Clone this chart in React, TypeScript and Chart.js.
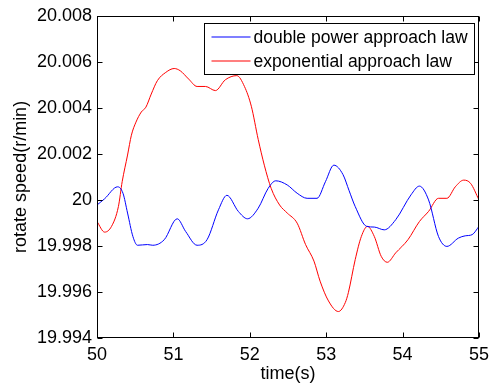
import React, { useEffect, useRef } from "react";
import { Chart, registerables } from "chart.js";

Chart.register(...registerables);

const blueTime = [50.0, 50.1, 50.27, 50.34, 50.4, 50.47, 50.53, 50.66, 50.73, 50.88, 51.05, 51.16, 51.31, 51.44, 51.59, 51.7, 51.85, 51.97, 52.11, 52.24, 52.34, 52.49, 52.62, 52.75, 52.88, 52.99, 53.1, 53.22, 53.3, 53.38, 53.53, 53.63, 53.76, 53.91, 54.11, 54.22, 54.34, 54.47, 54.58, 54.73, 54.82, 54.91, 55.0];
const blueSpeed = [19.99978, 20.00005, 20.00057, 20.00029, 19.99943, 19.99841, 19.99803, 19.99806, 19.99803, 19.99827, 19.99918, 19.99863, 19.99803, 19.99827, 19.99957, 20.0002, 19.9995, 19.99918, 19.99964, 20.0005, 20.00083, 20.00065, 20.00029, 20.00007, 20.00007, 20.00079, 20.00151, 20.0011, 20.0004, 19.99971, 19.99885, 19.99882, 19.9987, 19.99914, 20.00022, 20.0006, 20.0, 19.99841, 19.99798, 19.99834, 19.99844, 19.99849, 19.99885];

const redTime = [50.0, 50.1, 50.19, 50.28, 50.33, 50.4, 50.45, 50.51, 50.58, 50.64, 50.71, 50.79, 50.9, 51.01, 51.09, 51.2, 51.31, 51.42, 51.55, 51.68, 51.83, 51.93, 52.02, 52.11, 52.19, 52.28, 52.39, 52.49, 52.62, 52.73, 52.84, 52.92, 53.03, 53.16, 53.25, 53.29, 53.38, 53.46, 53.54, 53.63, 53.72, 53.8, 53.91, 54.07, 54.22, 54.34, 54.47, 54.58, 54.69, 54.8, 54.89, 55.0];
const redSpeed = [19.99906, 19.9986, 19.99885, 19.99971, 20.0008, 20.00195, 20.00281, 20.00338, 20.00382, 20.00403, 20.0046, 20.00518, 20.00554, 20.00571, 20.00561, 20.00525, 20.00493, 20.00493, 20.00475, 20.00522, 20.0054, 20.00493, 20.00407, 20.00263, 20.00151, 20.0005, 19.99978, 19.99943, 19.99899, 19.99806, 19.99734, 19.99647, 19.99561, 19.99515, 19.99554, 19.99597, 19.99741, 19.99841, 19.99885, 19.99841, 19.99755, 19.99729, 19.9977, 19.99827, 19.99906, 19.9995, 20.00007, 20.00007, 20.00057, 20.00086, 20.00072, 20.0];

const seriesLabels = ["double power approach law", "exponential approach law"];
const seriesColors = ["#0000ff", "#ff0000"];
const xTickValues = [50, 51, 52, 53, 54, 55];
const yTickValues = [19.994, 19.996, 19.998, 20.0, 20.002, 20.004, 20.006, 20.008];

const FONT = '"Liberation Sans", Arial, sans-serif';

const framePlugin = {
  id: "frame",
  afterDatasetsDraw(chart: any) {
    const { ctx, chartArea: a, scales } = chart;
    ctx.save();
    ctx.strokeStyle = "#000";
    ctx.lineWidth = 1;
    const L = Math.round(a.left) + 0.5;
    const R = Math.round(a.right) - 0.5;
    const T = Math.round(a.top) + 0.5;
    const B = Math.round(a.bottom) - 0.5;
    ctx.strokeRect(L, T, R - L, B - T);
    const tl = 5;
    ctx.beginPath();
    for (const v of xTickValues) {
      const px = Math.round(scales.x.getPixelForValue(v)) + 0.5;
      ctx.moveTo(px, B);
      ctx.lineTo(px, B - tl);
      ctx.moveTo(px, T);
      ctx.lineTo(px, T + tl);
    }
    for (const v of yTickValues) {
      const py = Math.round(scales.y.getPixelForValue(v)) + 0.5;
      ctx.moveTo(L, py);
      ctx.lineTo(L + tl, py);
      ctx.moveTo(R, py);
      ctx.lineTo(R - tl, py);
    }
    ctx.stroke();
    ctx.restore();
  },
  afterDraw(chart: any) {
    const { ctx, chartArea: a } = chart;
    ctx.save();
    ctx.font = `17.5px ${FONT}`;
    const textW = Math.max(...seriesLabels.map((l) => ctx.measureText(l).width));
    const padL = 7, lineLen = 39, gap = 3, padR = 7;
    const w = Math.round(padL + lineLen + gap + textW + padR);
    const h = 51;
    const right = Math.round(a.right - 5);
    const left = right - w + 0.5;
    const top = Math.round(a.top + 7) + 0.5;
    ctx.fillStyle = "#fff";
    ctx.fillRect(left, top, w, h);
    ctx.strokeStyle = "#000";
    ctx.lineWidth = 1;
    ctx.strokeRect(left, top, w, h);
    for (let i = 0; i < seriesLabels.length; i++) {
      const y = Math.round(top + 13 + i * 24);
      ctx.beginPath();
      ctx.strokeStyle = seriesColors[i];
      ctx.lineWidth = 1.2;
      ctx.moveTo(left + padL, y);
      ctx.lineTo(left + padL + lineLen, y);
      ctx.stroke();
      ctx.fillStyle = "#000";
      ctx.textBaseline = "middle";
      ctx.textAlign = "left";
      ctx.fillText(seriesLabels[i], left + padL + lineLen + gap, y + 1);
    }
    ctx.restore();
  },
};

export default function App() {
  const ref = useRef<HTMLCanvasElement | null>(null);
  useEffect(() => {
    if (!ref.current) return;
    const chart = new Chart(ref.current, {
      type: "line",
      data: {
        datasets: [
          {
            label: seriesLabels[0],
            data: blueTime.map((t, i) => ({ x: t, y: blueSpeed[i] })),
            borderColor: seriesColors[0],
            borderWidth: 1,
            pointRadius: 0,
            cubicInterpolationMode: "monotone",
            fill: false,
          },
          {
            label: seriesLabels[1],
            data: redTime.map((t, i) => ({ x: t, y: redSpeed[i] })),
            borderColor: seriesColors[1],
            borderWidth: 1,
            pointRadius: 0,
            cubicInterpolationMode: "monotone",
            fill: false,
          },
        ],
      },
      options: {
        responsive: false,
        animation: false,
        layout: { padding: { left: 0, top: 14, right: 11, bottom: 0 } },
        plugins: { legend: { display: false }, tooltip: { enabled: false } },
        scales: {
          x: {
            type: "linear",
            min: 50,
            max: 55,
            afterBuildTicks: (s: any) => {
              s.ticks = xTickValues.map((v) => ({ value: v }));
            },
            afterFit: (s: any) => {
              s.height = 49;
            },
            grid: { display: false, drawTicks: false },
            border: { display: false },
            ticks: {
              color: "#000",
              font: { family: FONT, size: 18 },
              padding: 6,
              maxRotation: 0,
              callback: (v: any) => String(v),
            },
            title: {
              display: true,
              text: "time(s)",
              color: "#000",
              font: { family: FONT, size: 18 },
              padding: { top: 0, bottom: 2 },
            },
          },
          y: {
            type: "linear",
            min: 19.994,
            max: 20.008,
            afterBuildTicks: (s: any) => {
              s.ticks = yTickValues.map((v) => ({ value: v }));
            },
            afterFit: (s: any) => {
              s.width = 97;
            },
            grid: { display: false, drawTicks: false },
            border: { display: false },
            ticks: {
              color: "#000",
              font: { family: FONT, size: 18 },
              padding: 5,
              callback: (v: any) => String(Number(Number(v).toFixed(3))),
            },
            title: {
              display: true,
              text: "rotate speed(r/min)",
              color: "#000",
              font: { family: FONT, size: 18 },
              padding: { top: 10, bottom: 0 },
            },
          },
        },
      },
      plugins: [framePlugin],
    } as any);
    return () => chart.destroy();
  }, []);
  return (
    <div style={{ position: "absolute", left: 0, top: 0, width: 495, height: 387, background: "#fff" }}>
      <canvas ref={ref} width={495} height={387} style={{ display: "block" }} />
    </div>
  );
}
